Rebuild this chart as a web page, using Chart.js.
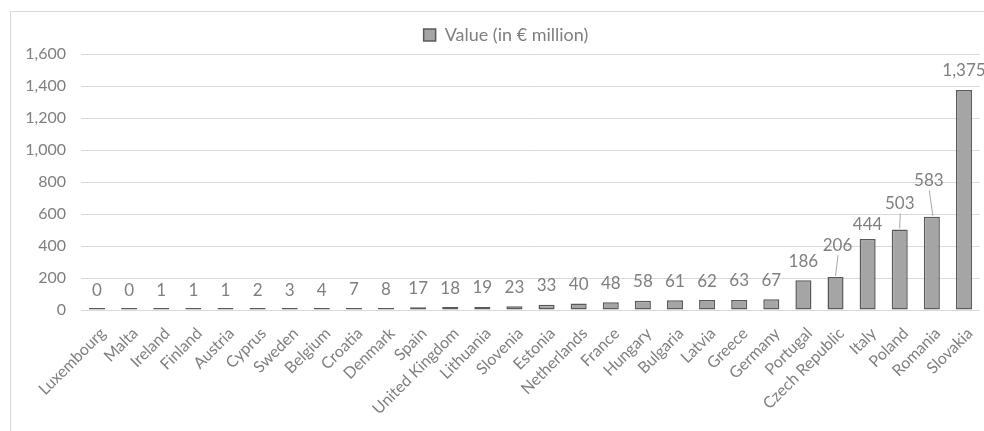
<!DOCTYPE html>
<html>
<head>
<meta charset="utf-8">
<script src="https://cdn.jsdelivr.net/npm/chart.js@4/dist/chart.umd.min.js"></script>
<style>
  html, body { margin: 0; padding: 0; background: #ffffff; }
  #wrap { position: relative; width: 984px; height: 431px; overflow: hidden; }
  #frame { position: absolute; left: 10px; top: 11px; width: 1000px; height: 440px; border: 1px solid #d9d9d9; box-sizing: border-box; }
  canvas { position: absolute; left: 0; top: 0; }
</style>
</head>
<body>
<div id="wrap">
  <div id="frame"></div>
  <canvas id="c" width="984" height="431"></canvas>
</div>
<script>
const countries = ["Luxembourg","Malta","Ireland","Finland","Austria","Cyprus","Sweden","Belgium","Croatia","Denmark","Spain","United Kingdom","Lithuania","Slovenia","Estonia","Netherlands","France","Hungary","Bulgaria","Latvia","Greece","Germany","Portugal","Czech Republic","Italy","Poland","Romania","Slovakia"];
const values = [0,0,1,1,1,2,3,4,7,8,17,18,19,23,33,40,48,58,61,62,63,67,186,206,444,503,583,1375];
const seriesName = "Value (in \u20ac million)";
const yTicks = [0,200,400,600,800,1000,1200,1400,1600];

const FONT = "Lato, 'Open Sans', sans-serif";
const TEXT = "#7f7f7f";

const dataLabels = {
  id: 'dataLabels',
  afterDatasetsDraw(chart, args, opts) {
    const ctx = chart.ctx;
    const meta = chart.getDatasetMeta(0);
    const labels = chart.data.labels;
    ctx.save();
    ctx.font = opts.size + "px " + FONT;
    ctx.fillStyle = TEXT;
    ctx.textAlign = 'center';
    ctx.textBaseline = 'middle';
    meta.data.forEach((bar, i) => {
      const v = chart.data.datasets[0].data[i];
      const adj = opts.adjust[labels[i]] || {dx: 0, lift: 0};
      const topY = chart.scales.y.getPixelForValue(v);
      const ly = topY - opts.offset - adj.lift;
      const lx = bar.x + adj.dx;
      ctx.fillText(v.toLocaleString('en-US'), lx, ly);
      if (adj.line) {
        ctx.strokeStyle = "#a6a6a6";
        ctx.lineWidth = 1;
        ctx.beginPath();
        ctx.moveTo(lx + 0.5, ly + 10);
        ctx.lineTo(bar.x + adj.ex, topY - 1);
        ctx.stroke();
      }
    });
    ctx.restore();
  }
};

// Centre the legend over the plot area (as in the reference) rather than the whole canvas
const legendShift = {
  id: 'legendShift',
  afterLayout(chart) {
    const lg = chart.legend;
    if (lg) { lg.left = chart.chartArea.left - 49; lg.right = chart.chartArea.right; }
  }
};

new Chart(document.getElementById('c'), {
  type: 'bar',
  data: {
    labels: countries,
    datasets: [{
      label: seriesName,
      data: values,
      backgroundColor: "#a5a5a5",
      borderColor: "#595959",
      borderWidth: 1.5,
      borderSkipped: false,
      minBarLength: 2,
      categoryPercentage: 1,
      barPercentage: 0.5
    }]
  },
  options: {
    responsive: false,
    animation: false,
    devicePixelRatio: 1,
    layout: { padding: { left: 0, right: 4, top: 16, bottom: 0 } },
    plugins: {
      legend: {
        display: true,
        position: 'top',
        labels: {
          font: { family: FONT, size: 18 },
          color: TEXT,
          boxWidth: 12,
          boxHeight: 12,
          padding: 10
        }
      },
      tooltip: { enabled: false },
      dataLabels: {
        size: 17,
        offset: 19,
        adjust: {
          "Italy": { dx: 0, lift: -5 },
          "Czech Republic": { dx: 2, lift: 13, line: true, ex: 0 },
          "Poland": { dx: 0, lift: 7, line: true, ex: 0 },
          "Romania": { dx: -3, lift: 17, line: true, ex: 1 }
        }
      }
    },
    scales: {
      x: {
        grid: { display: false },
        border: { display: false },
        ticks: {
          autoSkip: false,
          maxRotation: 45,
          minRotation: 45,
          color: TEXT,
          font: { family: FONT, size: 16 },
          padding: 6,
          labelOffset: 6
        },
        afterFit(scale) { scale.height = 121; }
      },
      y: {
        min: 0,
        max: 1600,
        afterBuildTicks(scale) { scale.ticks = yTicks.map(v => ({ value: v })); },
        grid: { color: "#d9d9d9", lineWidth: 1, drawTicks: false },
        border: { display: false },
        ticks: {
          color: TEXT,
          font: { family: FONT, size: 16 },
          padding: 15,
          callback: v => Number(v).toLocaleString('en-US')
        },
        afterFit(scale) { scale.width = 81; }
      }
    }
  },
  plugins: [dataLabels, legendShift]
});
</script>
</body>
</html>
